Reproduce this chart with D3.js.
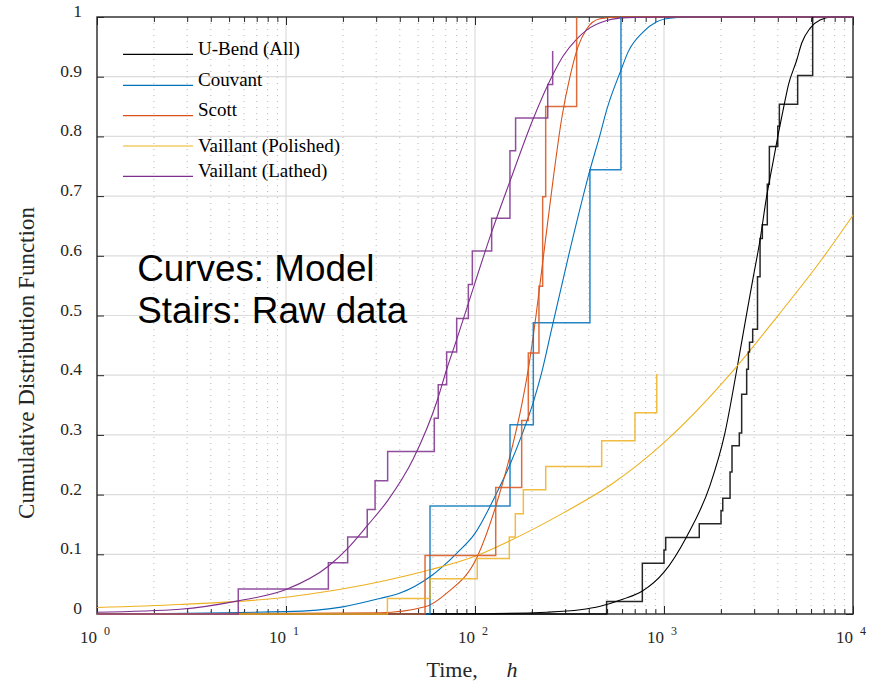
<!DOCTYPE html>
<html><head><meta charset="utf-8">
<script src="https://cdn.jsdelivr.net/npm/d3@7"></script>
<style>body{margin:0;background:#fff}svg{display:block}</style>
</head><body>
<svg id="chart" width="877" height="682"></svg>
<script>
// ---------- data ----------
const seriesNames = ["U-Bend (All)", "Couvant", "Scott", "Vaillant (Polished)", "Vaillant (Lathed)"];
const seriesColors = ["#000000", "#0072BD", "#D95319", "#EDB120", "#7E2F8E"];

// model curves (time h, CDF)
const uBendCurveT = [1, 100, 240, 360, 460, 610, 765, 1000, 1320, 1750, 2100, 2430, 2780, 2970, 3220, 3490, 3790, 4030, 4330, 4550, 5040, 5350, 5920, 6690, 7790, 10000];
const uBendCurveF = [0, 0.0005, 0.003, 0.007, 0.013, 0.025, 0.038, 0.07, 0.13, 0.215, 0.303, 0.41, 0.515, 0.565, 0.626, 0.699, 0.76, 0.805, 0.854, 0.886, 0.928, 0.956, 0.981, 0.995, 1.0, 1.0];
const couvantCurveT = [1, 10, 20, 31.4, 40.1, 57.8, 80, 100, 129, 153, 177, 203.5, 223.5, 255.6, 318, 406, 459, 497, 592, 647, 777, 915, 1076, 1373, 10000];
const couvantCurveF = [0, 0.004, 0.012, 0.026, 0.035, 0.0625, 0.1017, 0.135, 0.2, 0.25, 0.3, 0.355, 0.40, 0.48, 0.61, 0.744, 0.803, 0.844, 0.911, 0.942, 0.975, 0.992, 0.998, 1.0, 1.0];
const scottCurveT = [1, 31.4, 54.4, 70.85, 102.8, 128.7, 153.2, 176.6, 191.4, 210.3, 234.6, 259.6, 287.5, 318.1, 350.7, 389.9, 458.6, 585, 10000];
const scottCurveF = [0, 0.002, 0.012, 0.035, 0.096, 0.18, 0.265, 0.35, 0.41, 0.5, 0.62, 0.73, 0.83, 0.9, 0.95, 0.98, 0.997, 1.0, 1.0];
const polishedCurveT = [1, 2.75, 10, 16.7, 31.4, 57.8, 102.5, 151.3, 292, 537, 1000, 2360, 4060, 6690, 10000];
const polishedCurveF = [0.011, 0.016, 0.028, 0.038, 0.054, 0.074, 0.098, 0.122, 0.169, 0.219, 0.287, 0.41, 0.502, 0.59, 0.668];
const lathedCurveT = [1, 2.75, 5.57, 10, 16.74, 21.21, 26.93, 34.52, 47.16, 63.16, 70.85, 80.06, 92.16, 122.6, 153.2, 203.5, 259.6, 293.3, 345.2, 389.9, 497.4, 634.8, 952, 10000];
const lathedCurveF = [0.003, 0.008, 0.022, 0.041, 0.08, 0.11, 0.148, 0.19, 0.26, 0.358, 0.41, 0.46, 0.52, 0.64, 0.725, 0.83, 0.905, 0.935, 0.963, 0.978, 0.994, 0.999, 1.0, 1.0];

// raw data stairs (failure time h, empirical CDF after the step)
const uBendStairT = [497, 768, 1000, 1021, 1537, 2003, 2046, 2236, 2290, 2503, 2576, 2738, 2795, 2834, 2946, 3124, 3223, 3314, 3520, 3610, 3999, 4077, 5096, 6119];
const uBendStairF = [0.021, 0.085, 0.107, 0.128, 0.151, 0.173, 0.194, 0.238, 0.282, 0.303, 0.368, 0.41, 0.439, 0.455, 0.477, 0.565, 0.629, 0.652, 0.72, 0.783, 0.817, 0.854, 0.902, 1.0];
const couvantStairT = [57.8, 153.2, 203.5, 405.6, 592];
const couvantStairF = [0.181, 0.317, 0.488, 0.744, 1.0];
const scottStairT = [54.4, 128.7, 176.6, 191.5, 218, 228, 236.6, 345];
const scottStairF = [0.098, 0.212, 0.324, 0.437, 0.549, 0.699, 0.85, 1.0];
const polishedStairT = [34.4, 57.8, 102.8, 151.9, 163.4, 180.2, 236.7, 468, 702, 915];
const polishedStairF = [0.026, 0.059, 0.093, 0.129, 0.168, 0.208, 0.247, 0.29, 0.337, 0.402];
const lathedStairT = [5.59, 16.75, 21.2, 26.9, 29.6, 34.5, 60.9, 63.9, 70.8, 80.0, 92.2, 96.8, 122.5, 153.1, 164, 242.5, 257.6];
const lathedStairF = [0.042, 0.086, 0.129, 0.175, 0.223, 0.272, 0.328, 0.384, 0.439, 0.495, 0.552, 0.608, 0.663, 0.776, 0.831, 0.887, 0.943];

const xTickValues = [1, 10, 100, 1000, 10000];
const xTickExponents = ["0", "1", "2", "3", "4"];
const yTickValues = [0, 0.1, 0.2, 0.3, 0.4, 0.5, 0.6, 0.7, 0.8, 0.9, 1];
const yTickLabels = ["0", "0.1", "0.2", "0.3", "0.4", "0.5", "0.6", "0.7", "0.8", "0.9", "1"];
const xLabelText = "Time,";
const xLabelUnit = "h";
const yLabelText = "Cumulative Distribution Function";
const noteLines = ["Curves: Model", "Stairs: Raw data"];

const curveT = [uBendCurveT, couvantCurveT, scottCurveT, polishedCurveT, lathedCurveT];
const curveF = [uBendCurveF, couvantCurveF, scottCurveF, polishedCurveF, lathedCurveF];
const stairT = [uBendStairT, couvantStairT, scottStairT, polishedStairT, lathedStairT];
const stairF = [uBendStairF, couvantStairF, scottStairF, polishedStairF, lathedStairF];

// ---------- layout ----------
const L = 97, R = 853, T = 17, B = 614;
const svg = d3.select("#chart");
const x = d3.scaleLog().domain([1, 10000]).range([L, R]);
const y = d3.scaleLinear().domain([0, 1]).range([B, T]);
const serif = "'Liberation Serif','Times New Roman',Times,serif";
const axisColor = "#262626";

// minor ticks values
const minorX = [];
for (let d = 1; d < 10000; d *= 10) for (let k = 2; k <= 9; k++) minorX.push(d * k);

// grid
const grid = svg.append("g");
grid.selectAll(".gmx").data(minorX).join("line")
  .attr("x1", d => x(d)).attr("x2", d => x(d)).attr("y1", T).attr("y2", B)
  .attr("stroke", "#b5b5b5").attr("stroke-width", 1).attr("stroke-dasharray", "1,5");
grid.selectAll(".gX").data(xTickValues.slice(1, -1)).join("line")
  .attr("x1", d => x(d)).attr("x2", d => x(d)).attr("y1", T).attr("y2", B)
  .attr("stroke", "#dcdcdc").attr("stroke-width", 1.2);
grid.selectAll(".gY").data(yTickValues.slice(1, -1)).join("line")
  .attr("x1", L).attr("x2", R).attr("y1", d => y(d)).attr("y2", d => y(d))
  .attr("stroke", "#dcdcdc").attr("stroke-width", 1.2);

// axes with inward ticks
function styleAxis(g) {
  g.select(".domain").remove();
  g.selectAll(".tick text").remove();
  g.selectAll(".tick line").attr("stroke", axisColor).attr("stroke-width", 1);
}
svg.append("g").attr("transform", `translate(0,${B})`)
  .call(d3.axisBottom(x).tickValues(xTickValues).tickSize(-8)).call(styleAxis);
svg.append("g").attr("transform", `translate(0,${B})`)
  .call(d3.axisBottom(x).tickValues(minorX).tickSize(-5)).call(styleAxis);
svg.append("g").attr("transform", `translate(0,${T})`)
  .call(d3.axisTop(x).tickValues(xTickValues).tickSize(-8)).call(styleAxis);
svg.append("g").attr("transform", `translate(0,${T})`)
  .call(d3.axisTop(x).tickValues(minorX).tickSize(-5)).call(styleAxis);
svg.append("g").attr("transform", `translate(${L},0)`)
  .call(d3.axisLeft(y).tickValues(yTickValues).tickSize(-7)).call(styleAxis);
svg.append("g").attr("transform", `translate(${R},0)`)
  .call(d3.axisRight(y).tickValues(yTickValues).tickSize(-7)).call(styleAxis);

svg.append("rect").attr("x", L).attr("y", T).attr("width", R - L).attr("height", B - T)
  .attr("fill", "none").attr("stroke", axisColor).attr("stroke-width", 1.4);

// tick labels
const yl = svg.append("g").attr("font-family", serif).attr("font-size", 17.5).attr("fill", axisColor);
yl.selectAll("text").data(yTickValues).join("text")
  .attr("x", L - 15).attr("y", d => y(d)).attr("text-anchor", "end")
  .text((d, i) => yTickLabels[i]);
const xl = svg.append("g").attr("font-family", serif).attr("fill", axisColor);
xl.selectAll(".base").data(xTickValues).join("text")
  .attr("x", d => x(d)).attr("y", 643).attr("text-anchor", "end").attr("font-size", 17)
  .text("10");
xl.selectAll(".exp").data(xTickValues).join("text")
  .attr("x", d => x(d) + 7).attr("y", 634.5).attr("text-anchor", "start").attr("font-size", 12)
  .text((d, i) => xTickExponents[i]);

// axis labels
const xlab = svg.append("text").attr("font-family", serif).attr("font-size", 22).attr("fill", axisColor)
  .attr("x", (L + R) / 2 - 48.5).attr("y", 677);
xlab.append("tspan").text(xLabelText);
xlab.append("tspan").attr("x", (L + R) / 2 + 31.5).attr("font-style", "italic").text(xLabelUnit);
svg.append("text").attr("font-family", serif).attr("font-size", 23).attr("fill", axisColor)
  .attr("text-anchor", "middle").attr("transform", "translate(34,363) rotate(-90)")
  .text(yLabelText);

// data
svg.append("clipPath").attr("id", "clip").append("rect")
  .attr("x", L - 1).attr("y", T - 1.5).attr("width", R - L + 2).attr("height", B - T + 3);
const plot = svg.append("g").attr("clip-path", "url(#clip)");

const curveLine = d3.line().x(d => x(d[0])).y(d => y(d[1])).curve(d3.curveMonotoneX);
const stairLine = d3.line().x(d => x(d[0])).y(d => y(d[1])).curve(d3.curveStepAfter);

seriesNames.forEach((name, i) => {
  const cpts = curveT[i].map((t, j) => [t, curveF[i][j]]);
  plot.append("path").attr("d", curveLine(cpts)).attr("fill", "none")
    .attr("stroke", seriesColors[i]).attr("stroke-width", 1.1);
});
seriesNames.forEach((name, i) => {
  const spts = [[1, 0]].concat(stairT[i].map((t, j) => [t, stairF[i][j]]));
  plot.append("path").attr("d", stairLine(spts)).attr("fill", "none")
    .attr("stroke", seriesColors[i]).attr("stroke-width", 1.5).attr("stroke-opacity", 0.85);
});

// legend
const legendLineY = [54.3, 85.3, 115.7, 146, 176.3];
const legendTextY = [55, 85.5, 116, 151.5, 176.7];
const lg = svg.append("g");
seriesNames.forEach((name, i) => {
  lg.append("line").attr("x1", 123).attr("x2", 193).attr("y1", legendLineY[i]).attr("y2", legendLineY[i])
    .attr("stroke", seriesColors[i]).attr("stroke-width", 1.2);
  lg.append("text").attr("x", 198).attr("y", legendTextY[i]).attr("font-family", serif)
    .attr("font-size", 19).attr("fill", "#000").text(name);
});

// annotation
const note = svg.append("g").attr("font-family", "'Liberation Sans',Arial,Helvetica,sans-serif")
  .attr("font-size", 36.8).attr("fill", "#000");
note.selectAll("text").data(noteLines).join("text")
  .attr("x", 137.3).attr("y", (d, i) => 280.7 + i * 42.6).text(d => d);
</script>
</body></html>
